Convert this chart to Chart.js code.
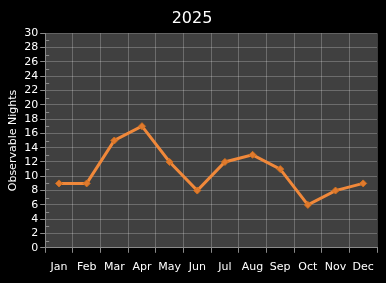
<!DOCTYPE html>
<html>
<head>
<meta charset="utf-8">
<script src="https://cdn.jsdelivr.net/npm/chart.js@4"></script>
<style>
  html, body { margin: 0; padding: 0; background: #000; }
  #wrap { width: 386px; height: 283px; }
</style>
</head>
<body>
<div id="wrap"><canvas id="myChart" width="386" height="283"></canvas></div>
<script>
const months = ['Jan', 'Feb', 'Mar', 'Apr', 'May', 'Jun', 'Jul', 'Aug', 'Sep', 'Oct', 'Nov', 'Dec'];
const nights = [9, 9, 15, 17, 12, 8, 12, 13, 11, 6, 8, 9];
const yTicks = [0, 2, 4, 6, 8, 10, 12, 14, 16, 18, 20, 22, 24, 26, 28, 30];

const font = "'DejaVu Sans', Verdana, sans-serif";

// dark plot area + small minor tick marks inside the y axis
const plotBg = {
    id: 'plotBg',
    beforeDraw(chart) {
        const ctx = chart.ctx, a = chart.chartArea;
        ctx.save();
        ctx.fillStyle = '#000';
        ctx.fillRect(0, 0, chart.width, chart.height);
        ctx.fillStyle = '#404040';
        ctx.fillRect(a.left, a.top, a.right - a.left, a.bottom - a.top);
        ctx.restore();
    },
    afterDatasetsDraw(chart) {
        const ctx = chart.ctx, a = chart.chartArea, y = chart.scales.y;
        ctx.save();
        ctx.strokeStyle = '#8a8a8a';
        ctx.lineWidth = 1;
        for (let i = 0; i < yTicks.length - 1; i++) {
            const py = Math.round(y.getPixelForValue(yTicks[i] + 1)) + 0.5;
            ctx.beginPath();
            ctx.moveTo(a.left, py);
            ctx.lineTo(a.left + 4, py);
            ctx.stroke();
        }
        ctx.restore();
    }
};

new Chart(document.getElementById('myChart'), {
    type: 'line',
    data: {
        labels: months,
        datasets: [{
            data: nights,
            borderColor: '#f0883a',
            backgroundColor: '#e07a2e',
            borderWidth: 3,
            pointStyle: 'rectRot',
            pointRadius: 3.5,
            pointBorderWidth: 1,
            pointBorderColor: '#d0701f',
            tension: 0
        }]
    },
    options: {
        responsive: false,
        animation: false,
        layout: { padding: { left: 7, right: 9, top: 7, bottom: 1 } },
        plugins: {
            legend: { display: false },
            tooltip: { enabled: false },
            title: {
                display: true,
                text: '2025',
                color: '#fff',
                font: { family: font, size: 16, weight: 'normal' },
                padding: { top: 2, bottom: 5 }
            }
        },
        scales: {
            x: {
                offset: true,
                grid: {
                    offset: true,
                    color: 'rgba(255,255,255,0.23)',
                    tickColor: '#8a8a8a',
                    tickLength: 5
                },
                border: { color: '#8a8a8a' },
                ticks: {
                    color: '#fff',
                    padding: 8,
                    font: { family: font, size: 11 },
                    maxRotation: 0,
                    autoSkip: false
                }
            },
            y: {
                min: 0,
                max: 30,
                afterBuildTicks: (axis) => { axis.ticks = yTicks.map(v => ({ value: v })); },
                grid: {
                    color: 'rgba(255,255,255,0.23)',
                    tickColor: '#8a8a8a',
                    tickLength: 5
                },
                border: { color: '#8a8a8a' },
                ticks: {
                    color: '#fff',
                    padding: 2,
                    autoSkip: false,
                    font: { family: font, size: 11 }
                },
                title: {
                    display: true,
                    text: 'Observable Nights',
                    color: '#fff',
                    font: { family: font, size: 11 },
                    padding: { top: 0, bottom: 2 }
                }
            }
        }
    },
    plugins: [plotBg]
});
</script>
</body>
</html>
